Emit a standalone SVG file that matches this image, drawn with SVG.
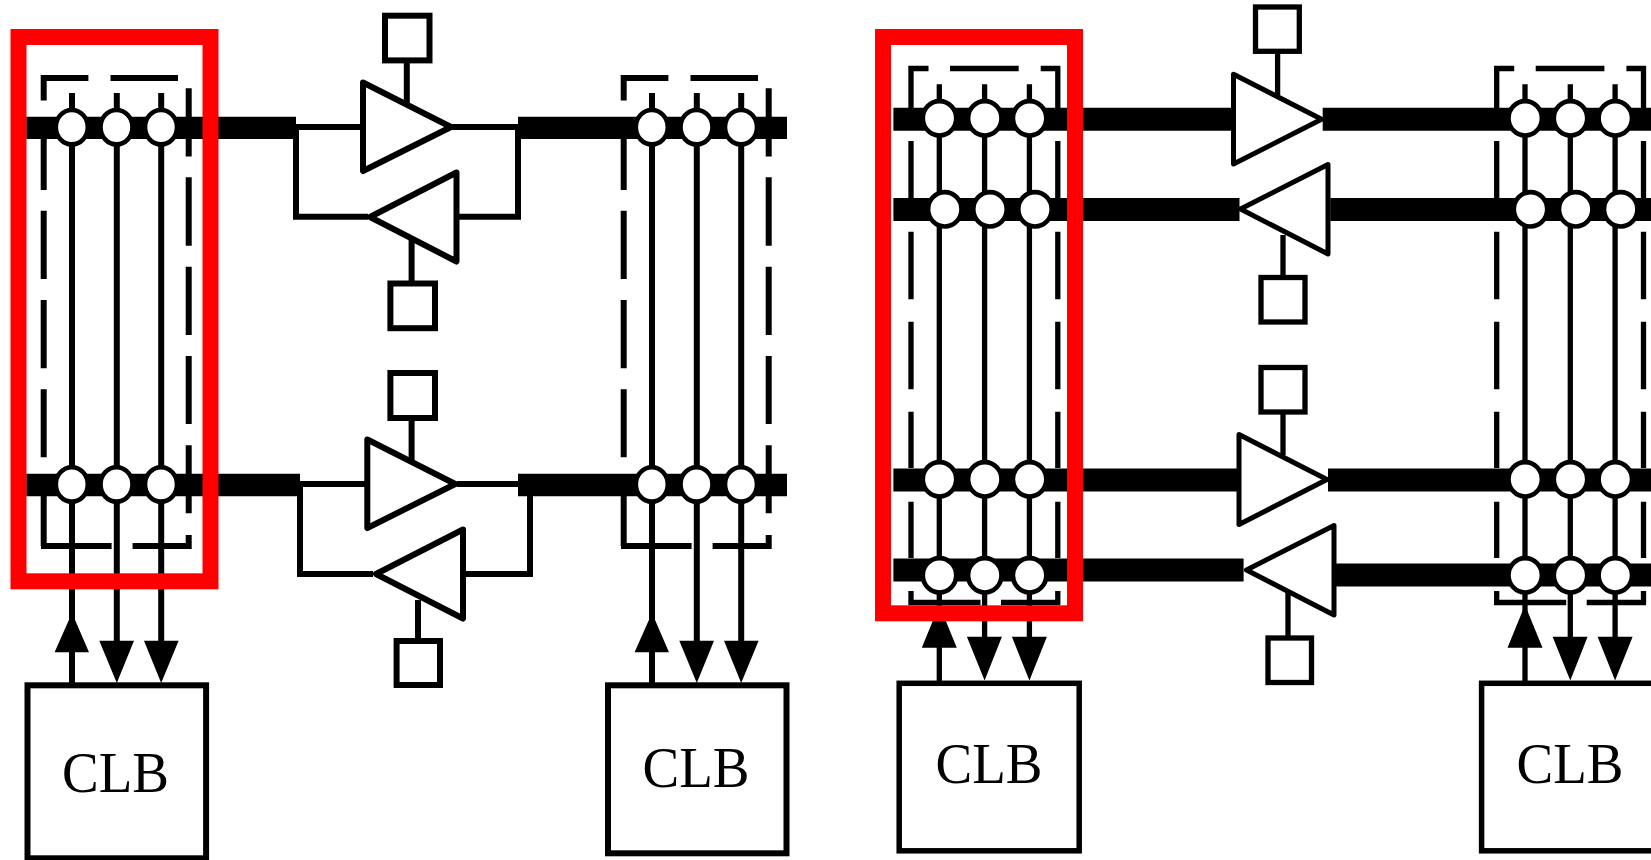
<svg xmlns="http://www.w3.org/2000/svg" width="1651" height="860" viewBox="0 0 1651 860">
<style>
.bus{fill:none;stroke:#000;stroke-width:23}
.a{fill:none;stroke:#000;stroke-width:6}
.b{fill:none;stroke:#000;stroke-width:5.300}
.sw{fill:#fff;stroke:#000;stroke-width:4.600}
.tri6{fill:#fff;stroke:#000;stroke-width:6;stroke-linejoin:round}
.tri5{fill:#fff;stroke:#000;stroke-width:5;stroke-linejoin:round}
.clb{fill:#fff;stroke:#000;stroke-width:6}
.lbl{font-family:"Liberation Serif","Times New Roman",serif;font-size:58px;fill:#000}
.hl{fill:none;stroke:#f00;stroke-width:16}
</style>
<defs>
<g id="blockL">
<path class="a" d="M41 78H88.400M110.500 78H178M43.700 75V100.500M43.700 138V190M43.700 210.700V279M43.700 300V368.300M43.700 389.300V457.300M43.700 490V546M41 546H111.600M132.600 546H191.600M188.700 88.300V156.500M188.700 177.300V245.700M188.700 266.700V335M188.700 356V424M188.700 445.300V513.300M188.700 535V549"/>
<path class="a" d="M72 93V685M116.800 93V660M161.200 93V660"/>
<path d="M72 613L89 652.300H54.600ZM99.300 640.700H134L116.800 683ZM144 640.700H178.600L161.200 683Z"/>
<ellipse class="sw" cx="71.800" cy="127.200" rx="16" ry="17.200"/><ellipse class="sw" cx="116.500" cy="127.200" rx="16" ry="17.200"/><ellipse class="sw" cx="161" cy="127.200" rx="16" ry="17.200"/>
<ellipse class="sw" cx="71.800" cy="484.400" rx="16" ry="17.200"/><ellipse class="sw" cx="116.500" cy="484.400" rx="16" ry="17.200"/><ellipse class="sw" cx="161" cy="484.400" rx="16" ry="17.200"/>
</g>
<g id="blockR">
<path class="b" d="M908.300 68.500H928.500M950 68.500H1018.700M1040.700 68.500H1060.300M911 66V108M911 141V198M911 231.700V299.300M911 321.700V389.300M911 411.700V468M911 501.700V558M911 591V604M908.300 602.500H980.500M1001 602.500H1060.300M1057.800 66V108M1057.800 141V198M1057.800 231.700V299.300M1057.800 321.700V389.300M1057.800 411.700V468M1057.800 501.700V558M1057.800 591V604"/>
<path class="b" d="M939.300 84.300V682M984.600 84.300V660M1029.400 84.300V660"/>
<path d="M939.300 605L956.800 647.800H921.800ZM966.900 636.700H1001.900L984.600 680.500ZM1011.900 636.700H1046.900L1029.400 680.500Z"/>
<ellipse class="sw" cx="939.500" cy="118.300" rx="16.700" ry="17.200"/><ellipse class="sw" cx="984.800" cy="118.300" rx="16.700" ry="17.200"/><ellipse class="sw" cx="1029.600" cy="118.300" rx="16.700" ry="17.200"/>
<ellipse class="sw" cx="944.800" cy="209.300" rx="16.700" ry="17.200"/><ellipse class="sw" cx="990" cy="209.300" rx="16.700" ry="17.200"/><ellipse class="sw" cx="1035" cy="209.300" rx="16.700" ry="17.200"/>
<ellipse class="sw" cx="939.500" cy="479.300" rx="16.700" ry="17.200"/><ellipse class="sw" cx="984.800" cy="479.300" rx="16.700" ry="17.200"/><ellipse class="sw" cx="1029.600" cy="479.300" rx="16.700" ry="17.200"/>
<ellipse class="sw" cx="939.500" cy="575.300" rx="16.700" ry="17.200"/><ellipse class="sw" cx="984.800" cy="575.300" rx="16.700" ry="17.200"/><ellipse class="sw" cx="1029.600" cy="575.300" rx="16.700" ry="17.200"/>
</g>
</defs>
<rect width="1651" height="860" fill="#fff"/>
<g id="connectors">
<path class="bus" style="stroke-width:22.300" d="M26.300 127.800H296M518 127.800H787M26.300 485H300M518 485H787"/>
<path class="a" d="M293 127H363M296 124V219.700M293 216.700H368M450 127H521M518 124V219.700M458 216.700H521"/>
<path class="a" d="M297 484H367M300 481V577M297 574H373M457 484H518M530 496V577M466 574H533"/>
<path class="a" d="M406.800 60V103M411.600 240V283M411.600 418V460M418 600V641"/>
<path class="bus" d="M893.400 119.300H1233M1322.700 119.300H1651M893.400 209.500H1239.500M1330.300 209.500H1651M893.400 480H1238.600M1328 480H1651M893.400 570H1243.600M1336 575H1651"/>
<path class="b" d="M1277.600 54V95M1283 235V277M1283 412V455M1288 590V638"/>
</g>
<g id="junctions-left"><use href="#blockL"/></g>
<g id="junctions-left-2"><use href="#blockL" x="580"/></g>
<g id="junctions-right"><use href="#blockR"/></g>
<g id="junctions-right-2"><use href="#blockR" x="585.700"/></g>
<g id="buf1"><polygon class="tri6" points="363,82.500 451,127 363,171"/></g>
<g id="buf2"><polygon class="tri6" points="456.500,172.500 370,217 456.500,261.500"/></g>
<g id="buf3"><polygon class="tri6" points="367.300,439.500 455.300,484 367.300,528"/></g>
<g id="buf4"><polygon class="tri6" points="463,529.500 376,574 463,618.500"/></g>
<g id="buf5"><polygon class="tri5" points="1233.500,74.200 1321.600,119.300 1233.500,164"/></g>
<g id="buf6"><polygon class="tri5" points="1328,164.500 1240.500,209 1328,254"/></g>
<g id="buf7"><polygon class="tri5" points="1239,434.500 1327,479.500 1239,524.500"/></g>
<g id="buf8"><polygon class="tri5" points="1334,525.500 1246.500,570 1334,615"/></g>
<g id="sram1"><rect class="a" x="385" y="15.700" width="44.500" height="44.700"/></g>
<g id="sram2"><rect class="a" x="390.400" y="283.500" width="44.600" height="44.700"/></g>
<g id="sram3"><rect class="a" x="390.400" y="373" width="44.600" height="45"/></g>
<g id="sram4"><rect class="a" x="396.600" y="641" width="43.400" height="44"/></g>
<g id="sram5"><rect class="b" x="1255.500" y="7" width="43.800" height="44.300"/></g>
<g id="sram6"><rect class="b" x="1261" y="277.500" width="44" height="44.500"/></g>
<g id="sram7"><rect class="b" x="1261" y="367.500" width="44" height="44.500"/></g>
<g id="sram8"><rect class="b" x="1268" y="638" width="43.500" height="44.500"/></g>
<g id="clb1"><rect class="clb" x="27.500" y="685.300" width="178.600" height="173"/><text class="lbl" x="62" y="791.700" textLength="107" lengthAdjust="spacingAndGlyphs">CLB</text></g>
<g id="clb2"><rect class="clb" x="608" y="685.300" width="178.500" height="168"/><text class="lbl" x="642.500" y="786.700" textLength="107" lengthAdjust="spacingAndGlyphs">CLB</text></g>
<g id="clb3"><rect class="clb" style="stroke-width:5.500" x="899.200" y="683.300" width="180" height="167.500"/><text class="lbl" x="935.500" y="782.700" textLength="107" lengthAdjust="spacingAndGlyphs">CLB</text></g>
<g id="clb4"><rect class="clb" style="stroke-width:5.500" x="1481.600" y="683.300" width="190" height="167.500"/><text class="lbl" x="1516.500" y="782.700" textLength="107" lengthAdjust="spacingAndGlyphs">CLB</text></g>
<g id="highlight-1"><rect class="hl" x="18.500" y="37" width="192" height="544.300"/></g>
<g id="highlight-2"><rect class="hl" x="883" y="37" width="192" height="576.300"/></g>
</svg>
